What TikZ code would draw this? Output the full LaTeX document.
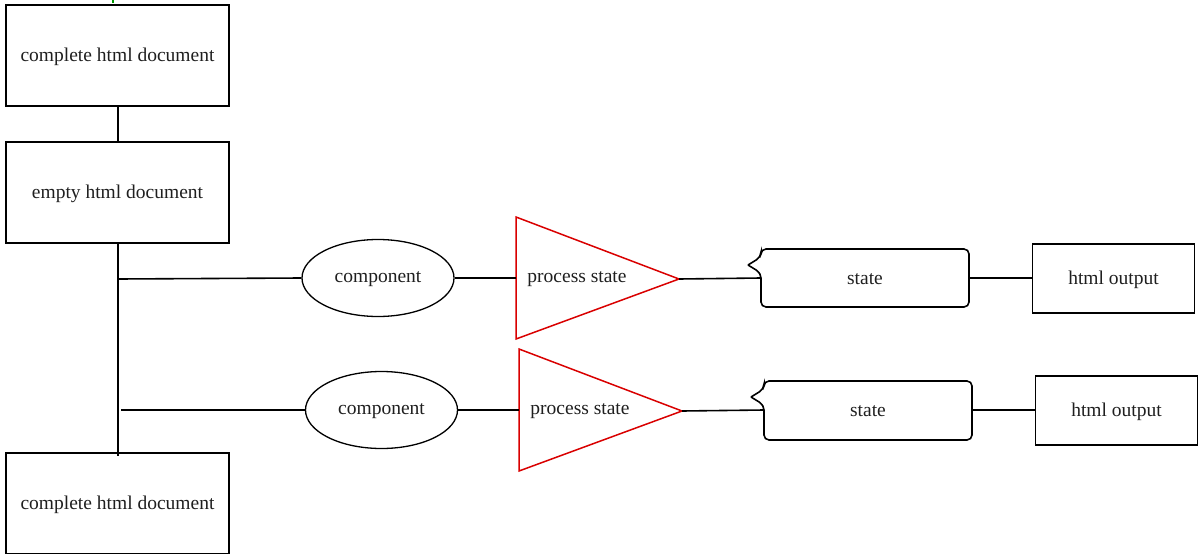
\documentclass[tikz,border=0pt]{standalone}
\usepackage{fontspec}
\setmainfont{Liberation Serif}
\usetikzlibrary{shapes.geometric}
\begin{document}
\begin{tikzpicture}[x=1pt,y=-1pt,
  every node/.style={font=\fontsize{19.5}{23}\selectfont, text=black!88},
  docbox/.style={draw=black, line width=1.6pt, minimum width=223pt, minimum height=101pt, inner sep=0pt},
  outbox/.style={draw=black, line width=1.6pt, minimum width=162pt, minimum height=69pt, inner sep=0pt},
  comp/.style={draw=black, line width=1.3pt, ellipse, minimum width=152pt, minimum height=77pt, inner sep=0pt},
  tri/.style={draw=red!85!black, line width=1.5pt, line join=miter},
  stbox/.style={minimum width=208pt, minimum height=58pt, inner sep=0pt},
  stline/.style={draw=black, line width=1.6pt, line join=miter},
  conn/.style={draw=black, line width=1.6pt},
  lbl/.style={yshift=-1.5pt}
]
\useasboundingbox (0,0) rectangle (1202,554);
% tiny green mark at top
\draw[green!60!black, line width=1.2pt] (113,0) -- (113,3);

% left column
\node[docbox] (top) at (117.5,55.5) {};
\node[lbl] at (top) {complete html document};
\node[docbox] (empty) at (117.5,192.5) {};
\node[lbl] at (empty) {empty html document};
\node[docbox] (bot) at (117.5,503.5) {};
\node[lbl] at (bot) {complete html document};
\coordinate (vtop) at (118,243);
\coordinate (vbot) at (118,456);
\coordinate (j1) at (118,279);
\coordinate (j2) at (121,410);

\draw[conn] (top.south -| vtop) -- (empty.north -| vtop);
\draw[conn] (vtop) -- (vbot);

% row 1
\node[comp] (c1) at (378,278) {};
\node[lbl] at (c1) {component};
\coordinate (t1l) at (516,278);
\coordinate (t1t) at (679,279);
\draw[tri] (516,217) -- (t1t) -- (516,339) -- cycle;
\node[lbl] (p1) at (577,278) {process state};
\node[stbox] (s1) at (865,278) {};
\node[lbl] at (s1) {state};
\draw[stline] (748,265) [rounded corners=5pt] -- (761,257) -- (761,249) -- (969,249) -- (969,307) -- (761,307) -- (761,273) [sharp corners] -- (748,265);
\node[outbox] (o1) at (1113.5,278.5) {};
\node[lbl] at (o1) {html output};

\draw[conn] (j1) -- (c1.west);
\draw[conn] (c1.east) -- (t1l);
\draw[conn] (t1t) -- (s1.west);
\draw[conn] (s1.east) -- (o1.west |- s1.east);

% row 2
\node[comp] (c2) at (381.5,410) {};
\node[lbl] at (c2) {component};
\coordinate (t2l) at (519,410);
\coordinate (t2t) at (682,411);
\draw[tri] (519,349) -- (t2t) -- (519,471) -- cycle;
\node[lbl] (p2) at (580,410) {process state};
\node[stbox] (s2) at (868,410) {};
\node[lbl] at (s2) {state};
\draw[stline] (751,397) [rounded corners=5pt] -- (764,389) -- (764,381) -- (972,381) -- (972,440) -- (764,440) -- (764,405) [sharp corners] -- (751,397);
\node[outbox] (o2) at (1116.5,410.5) {};
\node[lbl] at (o2) {html output};

\draw[conn] (j2) -- (c2.west);
\draw[conn] (c2.east) -- (t2l);
\draw[conn] (t2t) -- (s2.west);
\draw[conn] (s2.east) -- (o2.west |- s2.east);
\end{tikzpicture}
\end{document}
